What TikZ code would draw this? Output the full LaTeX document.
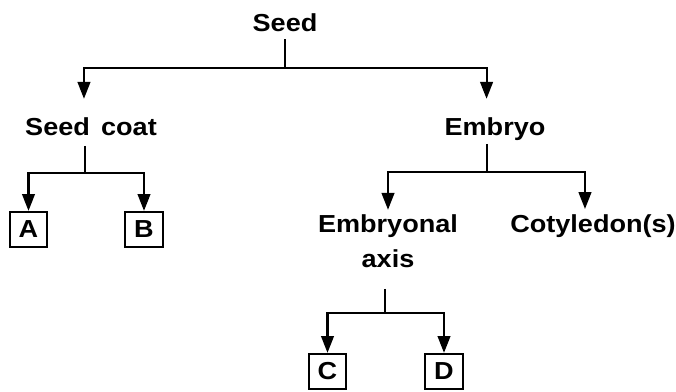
\documentclass[tikz,border=0pt]{standalone}
\usepackage{fontspec}
\setmainfont{Liberation Sans}[FakeStretch=1.1]
\usetikzlibrary{arrows.meta,positioning}

\begin{document}
\begin{tikzpicture}[x=0.025cm,y=-0.025cm,line width=1.5pt,
    lbl/.style={font=\bfseries\fontsize{17.5}{24.9}\selectfont,inner sep=0pt,text height=13pt,text depth=0pt},
    twolines/.style={font=\bfseries\fontsize{17.5}{24.9}\selectfont,inner sep=0pt,align=center},
    letter/.style={draw,font=\bfseries\fontsize{17.5}{24.9}\selectfont,minimum width=26.5pt,minimum height=25pt,inner sep=0pt},
    arr/.style={-{Triangle[length=12pt,width=9pt]}}]

    \useasboundingbox (0,0) rectangle (676,391);

    % labels
    \node[lbl,anchor=base] (seed) at (285,31) {Seed};
    \node[lbl,anchor=base] (coat) at (91,135) {Seed\hspace{0.15em} coat};
    \node[lbl,anchor=base] (embryo) at (495,135) {Embryo};
    \node[twolines,anchor=north] (axis) at (388,214) {Embryonal\\axis};
    \node[lbl,anchor=base] (cotyl) at (593,232) {Cotyledon(s)};

    % boxes
    \node[letter] (A) at (28.5,229.5) {A};
    \node[letter] (B) at (144,229.5) {B};
    \node[letter] (C) at (327.5,371.5) {C};
    \node[letter] (D) at (444,371.5) {D};

    % seed
    \coordinate (f1) at (285,68);
    \draw[shorten <=5pt] (seed.south -| f1) -- (f1);
    \draw[arr,shorten >=12pt] (f1) -| ([xshift=-5pt]coat.north);
    \draw[arr,shorten >=12pt] (f1) -| ([xshift=-6pt]embryo.north);

    % seed coat
    \coordinate (f2) at (85,173);
    \draw[shorten <=7pt] (coat.south -| f2) -- (f2);
    \draw[arr] (f2) -| (A);
    \draw[arr] (f2) -| (B);

    % embryo
    \coordinate (f3) at (487,172);
    \draw[shorten <=5.5pt] (embryo.south -| f3) -- (f3);
    \draw[arr,shorten >=3pt] (f3) -| (axis.north);
    \draw[arr,shorten >=2.6pt] (f3) -| ([xshift=-5.7pt]cotyl.north);

    % embryonal axis
    \coordinate (f4) at (385,313);
    \draw[shorten <=14pt] (axis.south -| f4) -- (f4);
    \draw[arr] (f4) -| (C);
    \draw[arr] (f4) -| (D);

\end{tikzpicture}
\end{document}
